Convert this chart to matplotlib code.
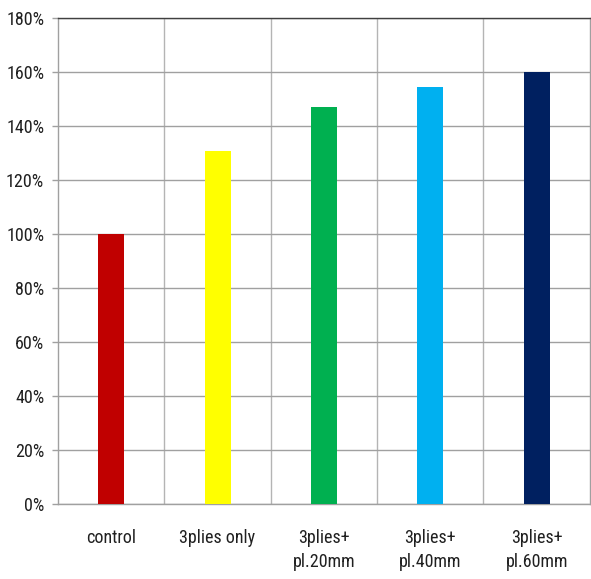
import numpy as np
import matplotlib.pyplot as plt
from matplotlib import font_manager
from matplotlib.ticker import FixedLocator, FuncFormatter

categories = ["control", "3plies only", "3plies+\npl.20mm", "3plies+\npl.40mm", "3plies+\npl.60mm"]
values = [100.0, 130.8, 147.2, 154.6, 160.0]
bar_colors = ["#C00000", "#FFFF00", "#00B050", "#00B0F0", "#002060"]
y_ticks = [0, 20, 40, 60, 80, 100, 120, 140, 160, 180]

# prefer a narrow face for the labels, fall back to a regular one
narrow = ["Liberation Sans Narrow", "Noto Sans Condensed", "Roboto Condensed",
          "Open Sans Condensed", "Noto Sans SemiCondensed", "DejaVu Sans Condensed"]
installed = {f.name for f in font_manager.fontManager.ttflist}
found = [n for n in narrow if n in installed]
if found:
    family, size = found[0], 13
else:
    family, size = "Liberation Sans", 11.5
plt.rcParams["font.family"] = [family, "DejaVu Sans"]

fig = plt.figure(figsize=(5.91, 5.79), dpi=100)
ax = fig.add_axes([0.0981, 0.129, 0.9, 0.840])

x = np.arange(len(categories))
ax.bar(x, values, width=0.245, color=bar_colors, zorder=3)

ax.set_xlim(-0.5, len(categories) - 0.5)
ax.set_ylim(0, 180)

# horizontal gridlines on the percent ticks
ax.set_yticks(y_ticks)
ax.yaxis.set_major_formatter(FuncFormatter(lambda v, _: f"{v:.0f}%"))
ax.yaxis.grid(True, color="#a0a0a0", linewidth=1.0, zorder=0)

# vertical gridlines between categories
ax.xaxis.set_minor_locator(FixedLocator(x[:-1] + 0.5))
ax.xaxis.grid(True, which="minor", color="#b4b4b4", linewidth=1.0, zorder=0)
ax.set_xticks(x)
ax.set_xticklabels(categories, linespacing=1.4)

ax.tick_params(axis="y", direction="out", length=4, width=1, color="#a0a0a0",
               labelsize=size, labelcolor="#202020", pad=6)
ax.tick_params(axis="x", which="major", direction="in", length=5, width=1,
               color="#909090", labelsize=size, labelcolor="#202020", pad=18)
ax.tick_params(axis="x", which="minor", length=0)

for side in ["left", "bottom", "right"]:
    ax.spines[side].set_color("#a0a0a0")
    ax.spines[side].set_linewidth(1.0)
ax.spines["top"].set_color("#404040")
ax.spines["top"].set_linewidth(1.0)

fig.savefig("out.png", dpi=100)
